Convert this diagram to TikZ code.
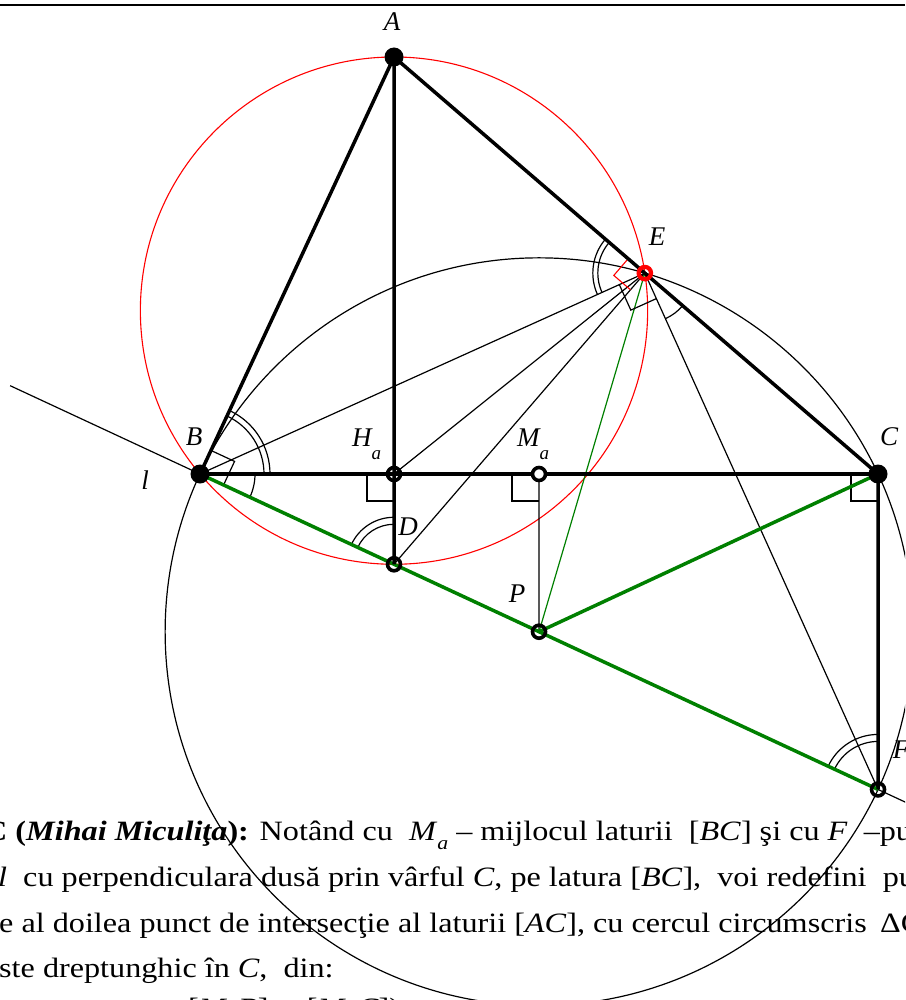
\documentclass[tikz,border=0pt]{standalone}
\usepackage{fontspec}
\setmainfont{Liberation Serif}
\usetikzlibrary{calc}
\definecolor{ggreen}{RGB}{0,128,0}
\newcommand{\lbl}{\fontsize{27}{27}\selectfont\itshape}
\newcommand{\sub}[1]{\raisebox{-13pt}{\fontsize{19}{19}\selectfont\itshape #1}}
\newcommand{\txsub}[1]{\raisebox{-9pt}{\fontsize{19}{19}\selectfont\itshape #1}}
\begin{document}
\begin{tikzpicture}[x=1pt,y=1pt,
  thinl/.style={line width=1.2pt},
  thickl/.style={line width=3.5pt},
  grnthick/.style={draw=ggreen,line width=3.5pt},
  grnthin/.style={draw=ggreen,line width=1.2pt},
  redthin/.style={draw=red,line width=1.1pt},
  hollow/.style={line width=3.6pt},
  label/.style={font=\lbl,inner sep=0pt},
  bodytext/.style={anchor=base west,inner sep=0pt,font=\fontsize{28}{28}\selectfont}]
\useasboundingbox (0,0) rectangle (905,-1000);
\fill[white] (0,0) rectangle (905,-1000);
\clip (0,0) rectangle (905,-1000);
% points
\coordinate (A) at (394,-57);
\coordinate (B) at (200,-474);
\coordinate (C) at (878,-474);
\coordinate (Ha) at (394,-474);
\coordinate (Ma) at (539,-474);
\coordinate (Lb) at ($(B)+(417,-194)$);
\coordinate (D) at (intersection of B--Lb and A--Ha);
\coordinate (Cd) at (878,-900);
\coordinate (F) at (intersection of B--Lb and C--Cd);
\coordinate (P) at ($(B)!0.5!(F)$);
\coordinate (E) at ($(A)!(D)!(C)$);
\coordinate (O1) at ($(A)!0.5!(D)$);
\coordinate (Lleft) at ($(B)!-0.28!(F)$);
\coordinate (Lright) at ($(F)!-0.3!(B)$);
\coordinate (TL) at (0,-5.5);
\coordinate (TR) at (905,-5.5);
% top rule
\draw[line width=2pt] (TL) -- (TR);
% circles
\draw[thinl] let \p1=($(B)-(P)$), \n1={veclen(\x1,\y1)} in (P) circle[radius=\n1];
\draw[redthin] let \p1=($(A)-(O1)$), \n1={veclen(\x1,\y1)} in (O1) circle[radius=\n1];
% thin lines
\draw[thinl] (Lleft) -- (B);
\draw[thinl] (F) -- (Lright);
\draw[thinl] (E) -- (B);
\draw[thinl] (E) -- (Ha);
\draw[thinl] (E) -- (D);
\draw[thinl] (E) -- (F);
\draw[thinl] (Ma) -- (P);
\draw[grnthin] (E) -- (P);
% right angle marks
\draw[thinl] ($(Ha)+(-27,0)$) -- ++(0,-27) -- ($(Ha)+(0,-27)$);
\draw[thinl] ($(Ma)+(-27,0)$) -- ++(0,-27) -- ($(Ma)+(0,-27)$);
\draw[thinl] ($(C)+(-27,0)$) -- ++(0,-27) -- ($(C)+(0,-27)$);
\draw[thinl] ($(B)+(65.05:26)$) -- ++(-24.95:26) -- ($(B)+(-24.95:26)$);
\draw[thinl] ($(E)+(204.3:28)$) -- ++(294.3:28) -- ($(E)+(294.3:28)$);
\draw[redthin] ($(E)+(139.27:22)$) -- ++(229.25:22) -- ($(E)+(229.25:22)$);
% angle arcs
\draw[thinl] ($(B)+(0:64)$) arc[start angle=0,end angle=65.05,radius=64];
\draw[thinl] ($(B)+(0:70)$) arc[start angle=0,end angle=65.05,radius=70];
\draw[thinl] ($(B)+(-24.95:55)$) arc[start angle=-24.95,end angle=0,radius=55];
\draw[thinl] ($(E)+(139.27:47)$) arc[start angle=139.27,end angle=204.3,radius=47];
\draw[thinl] ($(E)+(139.27:52)$) arc[start angle=139.27,end angle=204.3,radius=52];
\draw[thinl] ($(E)+(-65.7:50)$) arc[start angle=-65.7,end angle=-40.73,radius=50];
\draw[thinl] ($(D)+(90:40)$) arc[start angle=90,end angle=155.05,radius=40];
\draw[thinl] ($(D)+(90:47)$) arc[start angle=90,end angle=155.05,radius=47];
\draw[thinl] ($(F)+(90:48)$) arc[start angle=90,end angle=155.05,radius=48];
\draw[thinl] ($(F)+(90:55)$) arc[start angle=90,end angle=155.05,radius=55];
% green thick
\draw[grnthick] (B) -- (F);
\draw[grnthick] (P) -- (C);
% thick black
\draw[thickl] (A) -- (B);
\draw[thickl] (A) -- (C);
\draw[thickl] (B) -- (C);
\draw[thickl] (A) -- (D);
\draw[thickl] (C) -- (F);
% point marks
\fill (A) circle[radius=9.5];
\fill (B) circle[radius=9.5];
\fill (C) circle[radius=9.5];
\draw[hollow] (Ha) circle[radius=6.5];
\draw[hollow,fill=white] (Ma) circle[radius=6.5];
\draw[hollow] (D) circle[radius=6.5];
\draw[hollow] (P) circle[radius=6.5];
\draw[hollow] (F) circle[radius=6.5];
\draw[red,line width=4.2pt] (E) circle[radius=6.2];
% labels
\node[label] (lA) at (392,-22) {A};
\node[label] (lE) at (657,-237) {E};
\node[label] (lB) at (194,-437) {B};
\node[label,anchor=base west] (lHa) at (352,-446) {H\sub{a}};
\node[label,anchor=base west] (lMa) at (517,-446) {M\sub{a}};
\node[label] (lC) at (889,-437) {C};
\node[label] (lD) at (408,-527) {D};
\node[label] (lP) at (517,-594) {P};
\node[label] (lF) at (901,-750) {F};
\node[label] (ll) at (145,-480) {l};
% text
\node[bodytext] (t1) at (-16,-840) {\scalebox{1.15}[1]{\textbf{C (\textit{Mihai Miculiţa}):} Notând cu \ \textit{M}\txsub{a} – mijlocul laturii \ [\textit{BC}] şi cu \textit{F} \ –punctul de intersecţie}};
\node[bodytext] (t2) at (-2,-886) {\scalebox{1.15}[1]{\textit{l} \ cu perpendiculara dusă prin vârful \textit{C}, pe latura [\textit{BC}], \ voi redefini \ punctul}};
\node[bodytext] (t3) at (-1,-932) {\scalebox{1.15}[1]{e al doilea punct de intersecţie al laturii [\textit{AC}], cu cercul circumscris \,ΔCEF}};
\node[bodytext] (t4) at (-1,-977) {\scalebox{1.15}[1]{ste dreptunghic în \textit{C}, \ din:}};
\node[bodytext] (t5) at (188,-1017) {\scalebox{1.15}[1]{[\textit{M}\txsub{a}\textit{B}] $\equiv$ [\textit{M}\txsub{a}\textit{C}])}};
\end{tikzpicture}
\end{document}
